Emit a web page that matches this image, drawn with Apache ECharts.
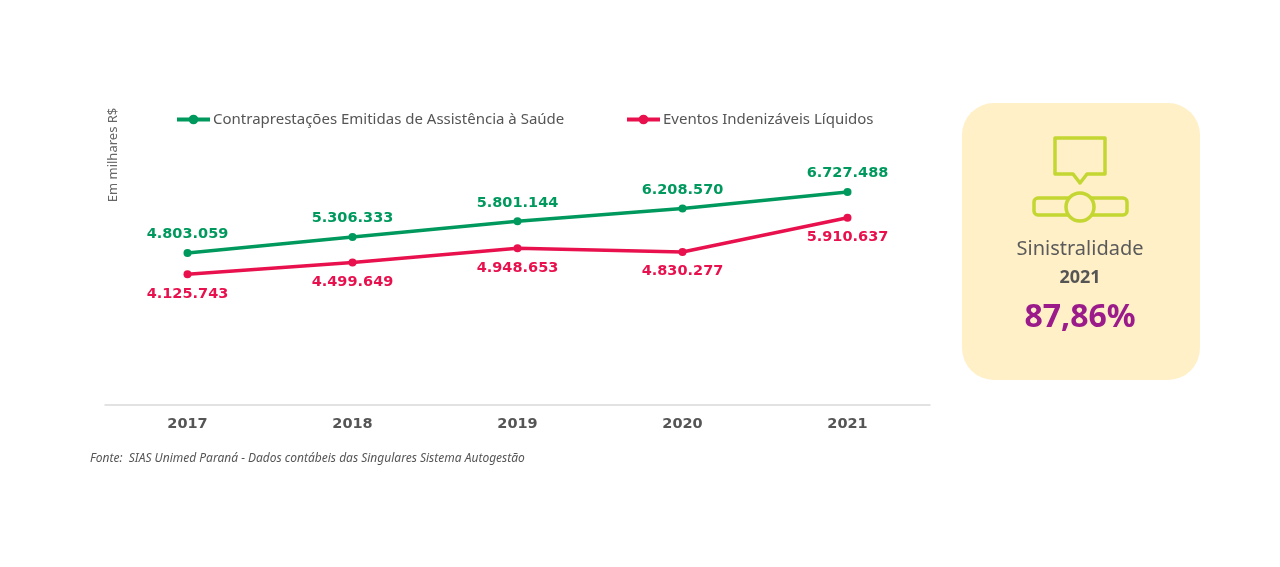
<!DOCTYPE html>
<html>
<head>
<meta charset="utf-8">
<script src="https://cdn.jsdelivr.net/npm/echarts@6/dist/echarts.min.js"></script>
<style>
  html, body { margin: 0; padding: 0; background: #fff; }
  #chart { width: 1280px; height: 567px; }
</style>
</head>
<body>
<div id="chart"></div>
<script>
// dados (em milhares R$)
var anos = ['2017', '2018', '2019', '2020', '2021'];
var contraprestacoes = [4803059, 5306333, 5801144, 6208570, 6727488];
var eventos = [4125743, 4499649, 4948653, 4830277, 5910637];
var nomeContra = 'Contraprestações Emitidas de Assistência à Saúde';
var nomeEventos = 'Eventos Indenizáveis Líquidos';
var sinistralidade = '87,86%';

var verde = '#00995D', vermelho = '#E8114D', cinza = '#555555';
var lima = '#C3D631', roxo = '#9B1B8A';

function fmt(v) {
    return String(v).replace(/\B(?=(\d{3})+(?!\d))/g, '.');
}

var chart = echarts.init(document.getElementById('chart'));

var labelFont = { fontFamily: 'DejaVu Sans', fontWeight: 'bold', fontSize: 14.5 };
var legendBase = {
    top: 112, padding: 0,
    itemWidth: 33, itemHeight: 12,
    lineStyle: { width: 4 },
    textStyle: { color: cinza, fontFamily: 'Noto Sans', fontSize: 15, padding: [0, 0, 0, -2] }
};

chart.setOption({
    animation: false,
    grid: { left: 105, right: 350, top: 120, height: 285 },
    legend: [
        Object.assign({ data: [nomeContra], left: 175 }, legendBase),
        Object.assign({ data: [nomeEventos], left: 625 }, legendBase)
    ],
    xAxis: {
        type: 'category',
        data: anos,
        boundaryGap: true,
        axisLine: { lineStyle: { color: '#d9d9d9', width: 1.5 } },
        axisTick: { show: false },
        axisLabel: {
            color: cinza, margin: 12,
            fontFamily: 'DejaVu Sans', fontWeight: 'bold', fontSize: 14.5
        }
    },
    yAxis: {
        type: 'value',
        min: 0, max: 9000000,
        show: false
    },
    series: [{
        name: nomeContra,
        type: 'line',
        data: contraprestacoes,
        color: verde,
        symbol: 'circle', symbolSize: 8,
        lineStyle: { width: 3.5 },
        label: Object.assign({
            show: true, position: 'top', distance: 7, color: verde,
            formatter: function (p) { return fmt(p.value); }
        }, labelFont)
    }, {
        name: nomeEventos,
        type: 'line',
        data: eventos,
        color: vermelho,
        symbol: 'circle', symbolSize: 8,
        lineStyle: { width: 3.5 },
        label: Object.assign({
            show: true, position: 'bottom', distance: 8, color: vermelho,
            formatter: function (p) { return fmt(p.value); }
        }, labelFont)
    }],
    graphic: [
        {
            type: 'text', x: 113, y: 155, rotation: Math.PI / 2,
            style: {
                text: 'Em milhares R$', fill: '#666666', font: '13px "Noto Sans"',
                align: 'center', verticalAlign: 'middle'
            }
        },
        {
            type: 'text', left: 90, top: 453,
            style: {
                text: 'Fonte:  SIAS Unimed Paraná - Dados contábeis das Singulares Sistema Autogestão',
                fill: cinza, font: 'italic 12px "Noto Sans"'
            }
        },
        // caixa de sinistralidade
        {
            type: 'rect',
            shape: { x: 962, y: 103, width: 238, height: 277, r: 32 },
            style: { fill: '#FFF0C8' }
        },
        {
            type: 'polygon',
            shape: { points: [[1055, 138], [1105, 138], [1105, 174], [1087, 174], [1080, 183], [1073, 174], [1055, 174]] },
            style: { fill: 'none', stroke: lima, lineWidth: 3.5, lineJoin: 'round' }
        },
        {
            type: 'rect',
            shape: { x: 1034, y: 198, width: 93, height: 17, r: 4 },
            style: { fill: '#FFF0C8', stroke: lima, lineWidth: 3.5 }
        },
        {
            type: 'circle',
            shape: { cx: 1080, cy: 207, r: 14 },
            style: { fill: '#FFF0C8', stroke: lima, lineWidth: 3.5 }
        },
        {
            type: 'text', x: 1080, y: 249,
            style: {
                text: 'Sinistralidade', fill: '#5A5A5A', font: '20px "Noto Sans"',
                align: 'center', verticalAlign: 'middle'
            }
        },
        {
            type: 'text', x: 1080, y: 278,
            style: {
                text: '2021', fill: '#555555', font: 'bold 18px "Noto Sans"',
                align: 'center', verticalAlign: 'middle'
            }
        },
        {
            type: 'text', x: 1080, y: 318,
            style: {
                text: sinistralidade, fill: roxo, font: 'bold 32px "Noto Sans"',
                align: 'center', verticalAlign: 'middle'
            }
        }
    ]
});
</script>
</body>
</html>
